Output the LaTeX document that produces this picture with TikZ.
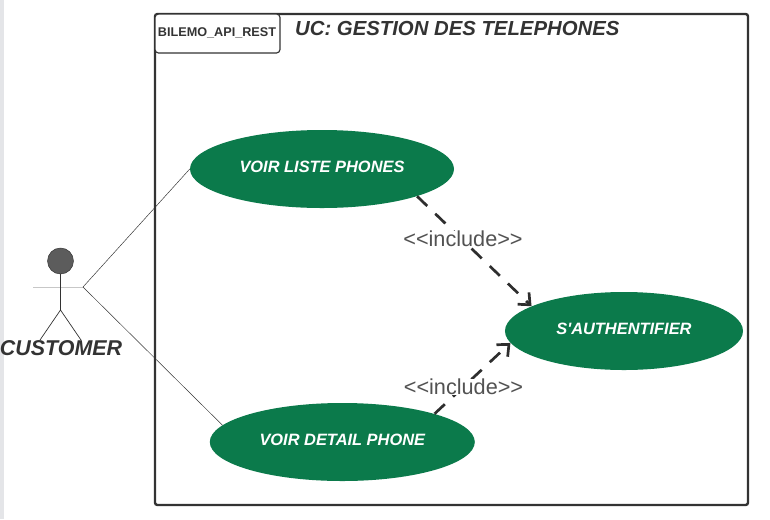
\documentclass[tikz,border=0pt]{standalone}
\usepackage{fontspec}
\setmainfont{Liberation Sans}
\definecolor{main}{RGB}{11,122,75}
\definecolor{ink}{RGB}{51,51,51}
\definecolor{stripe}{RGB}{228,229,232}
\usetikzlibrary{
	arrows.meta,
	positioning,
	shapes.geometric
}
\tikzset{
  % arrow
	cstinc/.style     ={-{Straight Barb[length=8pt,width=14pt]}, line width=2.3pt, draw=ink!90!black, dash pattern=on 12pt off 9.5pt},
  % curve
	cstlink/.style    ={line width=.4pt, draw=ink},
	cststick/.style   ={line width=.6pt, draw=ink},
  % node
	cstcase/.style    ={ellipse, fill=main, text=white, inner sep=0pt, text height=10pt, text depth=3.4pt, font=\fontsize{14}{16}\selectfont\bfseries\itshape},
	cstlabel/.style   ={fill=white, text=ink!85, inner sep=0pt, font=\fontsize{18.5}{22}\selectfont},
	csttitle/.style   ={text=ink, inner sep=0pt, anchor=west, font=\fontsize{17.35}{20}\selectfont\bfseries\itshape}
}
\begin{document}
\begin{tikzpicture}[x=.03cm,y=-.03cm]
	\useasboundingbox (0,0) rectangle (770,519);
	\fill[stripe] (0,0) rectangle (4,519);
	% frame
	\draw[line width=2pt,draw=ink,rounded corners=2pt] (155,14) rectangle (748,505);
	\draw[line width=1pt,draw=ink,fill=white,rounded corners=3pt] (155,14) rectangle (280,53);
	\node[text=ink,inner sep=0pt,font=\fontsize{10.8}{13}\selectfont\bfseries] (tab) at (217,33) {BILEMO\_API\_REST};
	\node[csttitle] (title) at (295,28) {UC: GESTION DES TELEPHONES};
	% use cases
	\node[cstcase,minimum width=7.92cm,minimum height=2.34cm] (liste) at (322,169) {VOIR LISTE PHONES};
	\node[cstcase,minimum width=7.95cm,minimum height=2.34cm] (detail) at (342.3,442) {VOIR DETAIL PHONE};
	\node[cstcase,minimum width=7.14cm,minimum height=2.34cm] (auth) at (624,331) {S\textquotesingle AUTHENTIFIER};
	% actor
	\node[circle,fill=ink!80,draw=ink,line width=.4pt,minimum size=.78cm,inner sep=0pt] (head) at (60.5,261) {};
	\coordinate (hip) at (60.5,310);
	\coordinate (handl) at (33,287);
	\coordinate (handr) at (83,287);
	\coordinate (footl) at (40,340);
	\coordinate (footr) at (81,340);
	\draw[line width=.7pt,draw=black!22] (handl)--(handr);
	\draw[cststick] (head)--(hip);
	\draw[cststick] (footl)--(hip)--(footr);
	\node[text=ink,inner sep=0pt,font=\fontsize{18.3}{22}\selectfont\bfseries\itshape] (customer) at (61,348) {CUSTOMER};
	\draw[cstlink] (handr)--(liste.west);
	\draw[cstlink] (handr)--(detail.172);
	% include
	\draw[cstinc] (liste.-16)--(auth.165);
	\draw[cstinc] (detail.17)--(auth.186);
	\node[cstlabel] (inc1) at (463,239) {<{}<include>{}>};
	\node[cstlabel] (inc2) at (463.5,387) {<{}<include>{}>};
\end{tikzpicture}
\end{document}
